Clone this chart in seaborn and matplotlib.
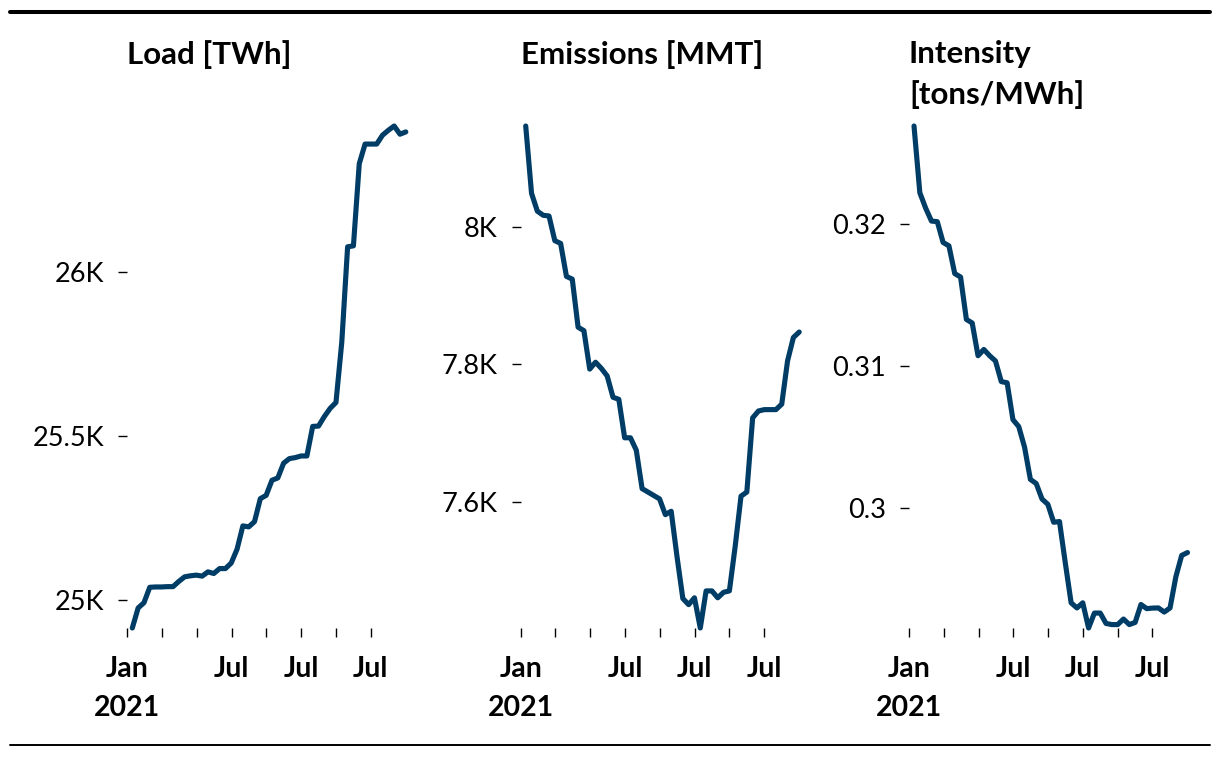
import numpy as np
import pandas as pd
import matplotlib
matplotlib.use("Agg")
import matplotlib.pyplot as plt
from matplotlib.lines import Line2D
import seaborn as sns

# ---------------- data ----------------
load = [24916, 24977, 24993, 25040, 25041, 25041, 25042, 25042, 25058, 25072,
        25075, 25077, 25074, 25087, 25082, 25097, 25097, 25114, 25156, 25227,
        25224, 25240, 25310, 25320, 25366, 25373, 25418, 25432, 25435, 25440,
        25440, 25530, 25531, 25560, 25585, 25603, 25787, 26077, 26080, 26330,
        26390, 26390, 26390, 26417, 26432, 26445, 26420, 26427]
emissions = [8147, 8049, 8023, 8017, 8016, 7980, 7976, 7928, 7924, 7854,
             7849, 7793, 7803, 7794, 7783, 7752, 7749, 7693, 7693, 7675,
             7619, 7614, 7609, 7604, 7581, 7586, 7520, 7459, 7450, 7460,
             7416, 7470, 7470, 7460, 7468, 7470, 7535, 7608, 7614, 7722,
             7732, 7734, 7734, 7734, 7742, 7805, 7839, 7847]
intensity = [0.32687, 0.32218, 0.3211, 0.32019, 0.32015, 0.31869, 0.31845, 0.3165,
             0.31626, 0.31328, 0.31303, 0.31073, 0.31117, 0.31073, 0.31036, 0.30891,
             0.30883, 0.30624, 0.30575, 0.3043, 0.30204, 0.30175, 0.30066, 0.30029,
             0.29903, 0.29908, 0.29617, 0.29337, 0.29301, 0.29337, 0.2916, 0.29265,
             0.29265, 0.29192, 0.29184, 0.29184, 0.29223, 0.29184, 0.29199, 0.29325,
             0.29296, 0.293, 0.29301, 0.29272, 0.29301, 0.2952, 0.2967, 0.2969]
period = list(range(len(load)))

titles = ["Load [TWh]", "Emissions [MMT]", "Intensity\n[tons/MWh]"]
x_tick_labels = ["Jan\n2021", "", "", "Jul", "", "Jul", "", "Jul"]
y_ticks = [[25000, 25500, 26000], [7600, 7800, 8000], [0.30, 0.31, 0.32]]
y_tick_labels = [["25K", "25.5K", "26K"], ["7.6K", "7.8K", "8K"], ["0.3", "0.31", "0.32"]]

# x tick positions in period units (monthly ticks)
tick_start = -0.862
tick_step = 5.977

df = pd.DataFrame({"period": period, "load": load,
                   "emissions": emissions, "intensity": intensity})
series = ["load", "emissions", "intensity"]

# ---------------- style ----------------
sns.set_style("white")
plt.rcParams["font.family"] = ["Lato", "DejaVu Sans"]
line_color = "#003d66"

W, H = 1220, 758
fig = plt.figure(figsize=(W / 100, H / 100), dpi=100)

lefts_px = [127.3, 520.7, 909.0]
width_px = 278.5
top_px, bottom_px = 126, 628

x_ticks = [tick_start + tick_step * k for k in range(len(x_tick_labels))]

for i, col in enumerate(series):
    ax = fig.add_axes([lefts_px[i] / W, (H - bottom_px) / H,
                       width_px / W, (bottom_px - top_px) / H])
    sns.lineplot(data=df, x="period", y=col, ax=ax, color=line_color,
                 linewidth=3.7, solid_capstyle="round", solid_joinstyle="round")
    for s in ax.spines.values():
        s.set_visible(False)
    ax.set_xlim(x_ticks[0], period[-1])
    ax.set_ylim(min(df[col]), max(df[col]))
    ax.set_xticks(x_ticks)
    ax.set_xticklabels(x_tick_labels, fontweight="bold", fontsize=20.5,
                       linespacing=1.6)
    ax.set_yticks(y_ticks[i])
    ax.set_yticklabels(y_tick_labels[i], fontsize=19.5)
    ax.tick_params(axis="x", length=6.5, width=1, pad=14, color="black",
                   labelcolor="black", bottom=True, direction="out")
    ax.tick_params(axis="y", length=6.5, width=1, pad=10, color="black",
                   labelcolor="black", left=True, direction="out")
    ax.set_xlabel("")
    ax.set_ylabel("")
    ax.grid(False)
    ax.patch.set_alpha(0)
    for lab in ax.get_lines():
        lab.set_clip_on(False)
    fig.text(lefts_px[i] / W, 1 - 40 / H, titles[i], ha="left", va="top",
             fontsize=22.5, fontweight="bold", color="black", linespacing=1.5)

# horizontal rules
fig.add_artist(Line2D([10 / W, 1210 / W], [1 - 12 / H, 1 - 12 / H],
                      transform=fig.transFigure, color="black", linewidth=2.9))
fig.add_artist(Line2D([10 / W, 1210 / W], [1 - 745 / H, 1 - 745 / H],
                      transform=fig.transFigure, color="black", linewidth=1.4))

fig.savefig("out.png", dpi=100)
